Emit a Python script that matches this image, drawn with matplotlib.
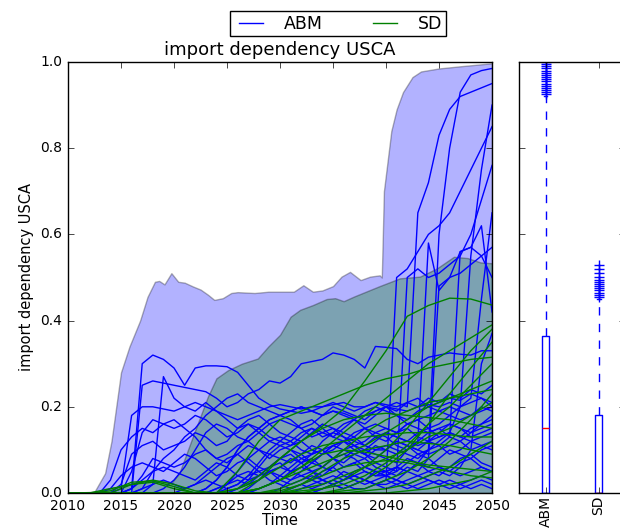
import numpy as np
import matplotlib
matplotlib.use("Agg")
import matplotlib.pyplot as plt

# time axes
years = np.arange(2010, 2051)          # ABM runs, yearly
years_sd = np.arange(2010, 2051, 2)    # SD runs, every two years

# envelope of all ABM runs (upper bound, lower bound is zero)
abm_env_years = [2010, 2012.5, 2013.5, 2014.1, 2015, 2015.8, 2016.8, 2017.5, 2018.2, 2018.6,
                 2019.1, 2019.75, 2020.4, 2021, 2021.8, 2022.5, 2023.2, 2023.8, 2024.6, 2025.4,
                 2026, 2027.6, 2028.9, 2030, 2031.3, 2032.2, 2033.1, 2034, 2035, 2035.8,
                 2036.6, 2037.6, 2038.5, 2039.4, 2039.6, 2039.8, 2040.5, 2041, 2041.6, 2042.5,
                 2043.3, 2045, 2047, 2050]
abm_env_upper = [0, 0.003, 0.046, 0.12, 0.28, 0.34, 0.40, 0.455, 0.49, 0.492,
                 0.484, 0.51, 0.49, 0.488, 0.479, 0.472, 0.46, 0.448, 0.452, 0.464,
                 0.466, 0.464, 0.467, 0.467, 0.467, 0.482, 0.467, 0.47, 0.48, 0.502,
                 0.513, 0.494, 0.502, 0.505, 0.50, 0.70, 0.84, 0.89, 0.93, 0.965,
                 0.978, 0.985, 0.99, 0.997]

# envelope of all SD runs
sd_env_years = [2010, 2012.5, 2013.5, 2015, 2016.5, 2017.5, 2019, 2019.8, 2020.5, 2021.9,
                2023.2, 2024, 2025.1, 2026.4, 2027.9, 2028.9, 2030, 2031, 2031.9, 2033.1,
                2034.4, 2035.2, 2036, 2037, 2038.2, 2039.4, 2041.3, 2043.2, 2044.8, 2046.4,
                2047.7, 2048.9, 2050]
sd_env_upper = [0, 0, 0.01, 0.015, 0.025, 0.03, 0.028, 0.025, 0.046, 0.139,
                0.224, 0.266, 0.285, 0.30, 0.312, 0.34, 0.367, 0.409, 0.425, 0.436,
                0.45, 0.452, 0.445, 0.456, 0.468, 0.48, 0.498, 0.502, 0.521, 0.548,
                0.545, 0.535, 0.533]

# individual ABM runs (2010..2050)
abm_runs = [
    [0, 0, 0, 0, 0, 0, 0.01, 0.30, 0.32, 0.31,
     0.29, 0.25, 0.29, 0.295, 0.295, 0.293, 0.28, 0.25, 0.22, 0.205,
     0.195, 0.19, 0.185, 0.19, 0.18, 0.19, 0.185, 0.175, 0.18, 0.19,
     0.2, 0.195, 0.19, 0.2, 0.205, 0.2, 0.21, 0.2, 0.21, 0.22, 0.2],
    [0, 0, 0, 0, 0, 0, 0, 0.25, 0.26, 0.255,
     0.25, 0.245, 0.24, 0.235, 0.22, 0.2, 0.21, 0.23, 0.24, 0.26,
     0.255, 0.27, 0.3, 0.305, 0.31, 0.325, 0.32, 0.31, 0.29, 0.34,
     0.338, 0.335, 0.31, 0.3, 0.315, 0.32, 0.325, 0.322, 0.32, 0.33, 0.33],
    [0, 0, 0, 0, 0, 0, 0, 0, 0.02, 0.27,
     0.22, 0.2, 0.19, 0.21, 0.19, 0.17, 0.15, 0.16, 0.14, 0.12,
     0.11, 0.12, 0.1, 0.09, 0.1, 0.11, 0.1, 0.09, 0.08, 0.1,
     0.1, 0.12, 0.11, 0.1, 0.09, 0.1, 0.11, 0.12, 0.1, 0.11, 0.12],
    [0, 0, 0, 0, 0, 0.01, 0.18, 0.2, 0.2, 0.195,
     0.19, 0.2, 0.21, 0.2, 0.19, 0.18, 0.17, 0.18, 0.19, 0.2,
     0.205, 0.2, 0.195, 0.2, 0.2, 0.205, 0.21, 0.2, 0.2, 0.21,
     0.205, 0.2, 0.21, 0.2, 0.22, 0.21, 0.22, 0.215, 0.23, 0.22, 0.21],
    [0, 0, 0, 0, 0.03, 0.1, 0.13, 0.15, 0.14, 0.16,
     0.17, 0.15, 0.13, 0.1, 0.08, 0.09, 0.11, 0.12, 0.1, 0.09,
     0.08, 0.07, 0.09, 0.11, 0.1, 0.08, 0.06, 0.07, 0.08, 0.06,
     0.05, 0.06, 0.05, 0.04, 0.05, 0.06, 0.05, 0.04, 0.05, 0.06, 0.05],
    [0, 0, 0, 0, 0, 0.02, 0.09, 0.11, 0.12, 0.1,
     0.11, 0.12, 0.14, 0.13, 0.11, 0.12, 0.15, 0.17, 0.18, 0.16,
     0.17, 0.16, 0.15, 0.13, 0.14, 0.15, 0.14, 0.13, 0.15, 0.16,
     0.15, 0.14, 0.16, 0.15, 0.14, 0.15, 0.16, 0.15, 0.14, 0.16, 0.17],
    [0, 0, 0, 0, 0, 0, 0, 0.01, 0.05, 0.08,
     0.1, 0.13, 0.15, 0.18, 0.2, 0.22, 0.23, 0.21, 0.2, 0.19,
     0.18, 0.19, 0.2, 0.19, 0.18, 0.2, 0.19, 0.18, 0.17, 0.19,
     0.2, 0.18, 0.16, 0.17, 0.18, 0.19, 0.2, 0.19, 0.18, 0.2, 0.19],
    [0, 0, 0, 0, 0.01, 0.04, 0.06, 0.07, 0.06, 0.05,
     0.07, 0.09, 0.08, 0.06, 0.04, 0.05, 0.07, 0.08, 0.06, 0.05,
     0.03, 0.02, 0.03, 0.04, 0.03, 0.02, 0.03, 0.04, 0.03, 0.02,
     0.03, 0.02, 0.03, 0.04, 0.03, 0.02, 0.03, 0.02, 0.03, 0.04, 0.03],
    [0, 0, 0, 0, 0, 0, 0, 0, 0, 0.01,
     0.03, 0.06, 0.1, 0.14, 0.16, 0.15, 0.13, 0.12, 0.14, 0.16,
     0.14, 0.13, 0.12, 0.14, 0.16, 0.15, 0.13, 0.12, 0.11, 0.13,
     0.14, 0.13, 0.12, 0.11, 0.12, 0.13, 0.14, 0.13, 0.12, 0.13, 0.14],
    [0, 0, 0, 0, 0, 0, 0, 0, 0, 0,
     0, 0.01, 0.02, 0.04, 0.06, 0.08, 0.09, 0.07, 0.05, 0.06,
     0.08, 0.1, 0.09, 0.07, 0.06, 0.08, 0.1, 0.11, 0.09, 0.07,
     0.06, 0.05, 0.07, 0.09, 0.08, 0.06, 0.05, 0.07, 0.08, 0.06, 0.05],
    [0, 0, 0, 0, 0, 0, 0, 0, 0, 0,
     0, 0, 0, 0.01, 0.03, 0.06, 0.1, 0.13, 0.15, 0.17,
     0.18, 0.17, 0.15, 0.16, 0.18, 0.19, 0.18, 0.17, 0.19, 0.2,
     0.19, 0.18, 0.17, 0.19, 0.2, 0.19, 0.18, 0.17, 0.18, 0.19, 0.2],
    [0, 0, 0, 0, 0, 0, 0.01, 0.04, 0.08, 0.07,
     0.06, 0.07, 0.09, 0.1, 0.08, 0.07, 0.09, 0.11, 0.1, 0.08,
     0.1, 0.11, 0.12, 0.1, 0.09, 0.11, 0.12, 0.13, 0.11, 0.1,
     0.11, 0.1, 0.09, 0.08, 0.1, 0.11, 0.09, 0.1, 0.12, 0.11, 0.1],
    [0, 0, 0, 0, 0, 0, 0, 0.01, 0.02, 0.03,
     0.02, 0.01, 0.02, 0.03, 0.02, 0.01, 0.02, 0.04, 0.05, 0.03,
     0.02, 0.01, 0.02, 0.01, 0.02, 0.03, 0.02, 0.01, 0.01, 0.02,
     0.01, 0.02, 0.01, 0.02, 0.03, 0.02, 0.01, 0.02, 0.01, 0.02, 0.01],
    [0, 0, 0, 0, 0, 0, 0, 0, 0, 0,
     0, 0, 0, 0, 0, 0.01, 0.02, 0.04, 0.07, 0.1,
     0.12, 0.11, 0.13, 0.15, 0.14, 0.13, 0.15, 0.17, 0.16, 0.18,
     0.2, 0.19, 0.21, 0.22, 0.2, 0.21, 0.23, 0.22, 0.24, 0.23, 0.25],
    [0, 0, 0, 0, 0, 0, 0, 0, 0, 0,
     0, 0, 0, 0, 0.01, 0.02, 0.04, 0.05, 0.04, 0.06,
     0.07, 0.05, 0.04, 0.03, 0.05, 0.06, 0.04, 0.03, 0.02, 0.03,
     0.04, 0.03, 0.02, 0.01, 0.02, 0.03, 0.02, 0.01, 0.02, 0.03, 0.02],
    [0, 0, 0, 0, 0, 0, 0, 0, 0, 0,
     0, 0, 0, 0, 0, 0, 0.01, 0.03, 0.06, 0.09,
     0.11, 0.1, 0.08, 0.09, 0.12, 0.14, 0.13, 0.11, 0.12, 0.14,
     0.13, 0.11, 0.1, 0.12, 0.14, 0.15, 0.13, 0.12, 0.14, 0.15, 0.16],
    [0, 0, 0, 0, 0, 0, 0.01, 0.03, 0.05, 0.06,
     0.05, 0.04, 0.03, 0.05, 0.07, 0.06, 0.04, 0.03, 0.04, 0.06,
     0.08, 0.09, 0.07, 0.05, 0.06, 0.08, 0.09, 0.08, 0.06, 0.05,
     0.04, 0.06, 0.08, 0.07, 0.05, 0.04, 0.06, 0.08, 0.09, 0.07, 0.06],
    [0, 0, 0, 0, 0, 0, 0, 0, 0, 0,
     0, 0, 0, 0, 0, 0, 0, 0, 0.01, 0.02,
     0.03, 0.05, 0.06, 0.05, 0.04, 0.06, 0.08, 0.1, 0.09, 0.08,
     0.1, 0.12, 0.11, 0.09, 0.1, 0.12, 0.14, 0.13, 0.15, 0.16, 0.18],
    [0, 0, 0, 0, 0, 0, 0.05, 0.14, 0.17, 0.16,
     0.15, 0.16, 0.18, 0.17, 0.15, 0.13, 0.14, 0.16, 0.15, 0.13,
     0.12, 0.14, 0.16, 0.17, 0.15, 0.13, 0.12, 0.14, 0.15, 0.13,
     0.12, 0.14, 0.15, 0.13, 0.12, 0.14, 0.16, 0.15, 0.13, 0.14, 0.15],
    [0, 0, 0, 0, 0, 0, 0, 0, 0, 0,
     0, 0, 0, 0, 0, 0, 0, 0, 0, 0,
     0, 0, 0, 0, 0.01, 0.02, 0.01, 0.02, 0.03, 0.05,
     0.04, 0.03, 0.05, 0.07, 0.06, 0.08, 0.1, 0.09, 0.08, 0.1, 0.11],
    # runs that tip over late in the horizon
    [0, 0, 0, 0, 0, 0, 0, 0, 0, 0,
     0, 0, 0, 0.01, 0.03, 0.06, 0.1, 0.13, 0.15, 0.17,
     0.18, 0.19, 0.2, 0.19, 0.2, 0.21, 0.2, 0.19, 0.2, 0.21,
     0.2, 0.21, 0.2, 0.65, 0.72, 0.83, 0.89, 0.92, 0.93, 0.94, 0.95],
    [0, 0, 0, 0, 0, 0, 0, 0, 0, 0,
     0, 0, 0, 0, 0, 0, 0.01, 0.02, 0.03, 0.05,
     0.06, 0.05, 0.07, 0.08, 0.06, 0.05, 0.06, 0.07, 0.05, 0.04,
     0.05, 0.06, 0.05, 0.07, 0.1, 0.6, 0.8, 0.93, 0.97, 0.98, 0.985],
    [0, 0, 0, 0, 0, 0, 0, 0, 0, 0,
     0, 0, 0, 0, 0, 0, 0, 0, 0.01, 0.02,
     0.04, 0.06, 0.08, 0.07, 0.09, 0.1, 0.12, 0.11, 0.1, 0.12,
     0.14, 0.13, 0.12, 0.14, 0.15, 0.13, 0.14, 0.2, 0.55, 0.75, 0.9],
    [0, 0, 0, 0, 0, 0, 0, 0, 0, 0,
     0, 0, 0, 0, 0, 0, 0, 0, 0, 0,
     0, 0.01, 0.02, 0.03, 0.02, 0.03, 0.05, 0.04, 0.03, 0.02,
     0.03, 0.5, 0.52, 0.56, 0.6, 0.62, 0.65, 0.7, 0.75, 0.8, 0.85],
    [0, 0, 0, 0, 0, 0, 0, 0, 0, 0,
     0, 0, 0, 0, 0.01, 0.02, 0.03, 0.02, 0.04, 0.05,
     0.04, 0.03, 0.04, 0.05, 0.03, 0.02, 0.03, 0.04, 0.05, 0.04,
     0.04, 0.05, 0.5, 0.52, 0.5, 0.51, 0.53, 0.55, 0.6, 0.68, 0.76],
    [0, 0, 0, 0, 0, 0, 0, 0, 0, 0,
     0, 0, 0, 0, 0, 0, 0, 0.01, 0.03, 0.05,
     0.06, 0.08, 0.07, 0.09, 0.1, 0.08, 0.07, 0.09, 0.1, 0.09,
     0.08, 0.07, 0.1, 0.12, 0.58, 0.47, 0.5, 0.56, 0.57, 0.62, 0.42],
    [0, 0, 0, 0, 0, 0, 0, 0, 0, 0,
     0, 0, 0, 0, 0, 0, 0, 0, 0, 0,
     0.01, 0.03, 0.05, 0.07, 0.09, 0.11, 0.12, 0.1, 0.09, 0.11,
     0.1, 0.09, 0.11, 0.1, 0.12, 0.11, 0.13, 0.56, 0.57, 0.55, 0.5],
    [0, 0, 0, 0, 0, 0, 0, 0, 0, 0,
     0, 0, 0, 0, 0, 0.02, 0.05, 0.08, 0.1, 0.12,
     0.13, 0.12, 0.14, 0.15, 0.13, 0.14, 0.16, 0.17, 0.15, 0.14,
     0.15, 0.14, 0.16, 0.17, 0.15, 0.16, 0.18, 0.2, 0.22, 0.45, 0.65],
    [0, 0, 0, 0, 0, 0, 0, 0, 0, 0,
     0, 0, 0, 0, 0, 0, 0, 0, 0, 0,
     0, 0, 0.01, 0.02, 0.03, 0.04, 0.03, 0.05, 0.06, 0.05,
     0.05, 0.04, 0.06, 0.05, 0.08, 0.48, 0.5, 0.51, 0.53, 0.55, 0.57],
    [0, 0, 0, 0, 0, 0, 0, 0, 0, 0,
     0, 0, 0, 0, 0, 0, 0, 0, 0, 0,
     0, 0, 0, 0, 0.01, 0.02, 0.01, 0.02, 0.03, 0.02,
     0.02, 0.03, 0.02, 0.03, 0.04, 0.05, 0.04, 0.06, 0.1, 0.3, 0.37],
]

# individual SD runs (2010..2050, every two years)
sd_runs = [
    [0, 0, 0, 0, 0, 0, 0, 0, 0.01, 0.04, 0.08, 0.12, 0.155, 0.195, 0.26, 0.33, 0.41, 0.435, 0.452, 0.45, 0.436],
    [0, 0, 0, 0, 0, 0, 0, 0, 0, 0.01, 0.03, 0.06, 0.1, 0.14, 0.18, 0.22, 0.26, 0.3, 0.33, 0.36, 0.39],
    [0, 0, 0, 0, 0, 0, 0, 0, 0.05, 0.12, 0.17, 0.19, 0.21, 0.23, 0.25, 0.265, 0.275, 0.29, 0.3, 0.31, 0.315],
    [0, 0, 0, 0.02, 0.03, 0.02, 0.005, 0, 0, 0.01, 0.03, 0.05, 0.07, 0.09, 0.11, 0.14, 0.17, 0.2, 0.22, 0.24, 0.26],
    [0, 0, 0, 0, 0, 0, 0, 0, 0, 0.03, 0.08, 0.12, 0.15, 0.17, 0.18, 0.185, 0.18, 0.175, 0.17, 0.16, 0.15],
    [0, 0, 0, 0, 0, 0, 0, 0, 0, 0, 0, 0, 0, 0.01, 0.03, 0.06, 0.1, 0.16, 0.23, 0.29, 0.35],
    [0, 0, 0.005, 0.025, 0.028, 0.015, 0, 0, 0, 0, 0, 0.005, 0.01, 0.02, 0.04, 0.07, 0.11, 0.16, 0.2, 0.25, 0.3],
    [0, 0, 0, 0, 0, 0, 0, 0, 0.01, 0.03, 0.06, 0.09, 0.11, 0.12, 0.13, 0.135, 0.14, 0.14, 0.135, 0.13, 0.13],
    [0, 0, 0, 0, 0, 0, 0, 0, 0, 0, 0, 0.01, 0.02, 0.04, 0.06, 0.08, 0.1, 0.13, 0.15, 0.18, 0.21],
    [0, 0, 0, 0, 0, 0, 0, 0, 0, 0.01, 0.03, 0.06, 0.09, 0.1, 0.095, 0.085, 0.075, 0.065, 0.06, 0.055, 0.05],
    [0, 0, 0, 0, 0, 0, 0, 0, 0, 0, 0, 0, 0, 0, 0.005, 0.01, 0.02, 0.04, 0.06, 0.09, 0.12],
    [0, 0, 0, 0, 0, 0, 0, 0, 0, 0, 0, 0, 0.01, 0.03, 0.06, 0.1, 0.15, 0.21, 0.27, 0.33, 0.38],
    [0, 0, 0.01, 0.02, 0.025, 0.01, 0, 0, 0, 0, 0, 0, 0, 0, 0, 0, 0.005, 0.01, 0.02, 0.03, 0.05],
    [0, 0, 0, 0, 0, 0, 0, 0, 0, 0, 0.01, 0.03, 0.06, 0.1, 0.14, 0.17, 0.19, 0.21, 0.22, 0.23, 0.24],
    [0, 0, 0, 0, 0, 0, 0, 0, 0, 0, 0, 0.02, 0.05, 0.08, 0.1, 0.11, 0.12, 0.115, 0.11, 0.1, 0.09],
    [0, 0, 0, 0, 0, 0, 0, 0, 0, 0, 0, 0, 0, 0.005, 0.01, 0.03, 0.05, 0.08, 0.12, 0.17, 0.23],
    [0, 0, 0, 0, 0, 0, 0, 0, 0, 0, 0.005, 0.02, 0.04, 0.06, 0.07, 0.075, 0.07, 0.06, 0.05, 0.04, 0.035],
]

# end-state distribution summary per model
box_labels = ["ABM", "SD"]
box_q1 = [0.0, 0.0]
box_median = [0.15, 0.0]
box_q3 = [0.365, 0.18]
box_whislo = [0.0, 0.0]
box_whishi = [0.92, 0.45]
abm_fliers = [0.925, 0.93, 0.935, 0.94, 0.945, 0.95, 0.955, 0.96, 0.965, 0.97,
              0.975, 0.98, 0.985, 0.99, 0.995, 1.0]
sd_fliers = [0.455, 0.46, 0.465, 0.47, 0.475, 0.48, 0.485, 0.49, 0.495, 0.50,
             0.51, 0.52, 0.53]

plt.style.use("classic")
plt.rcParams["figure.facecolor"] = "white"
plt.rcParams["savefig.facecolor"] = "white"
plt.rcParams["font.family"] = "DejaVu Sans"

fig = plt.figure(figsize=(6.2, 5.32), dpi=100)
ax = fig.add_axes([0.1097, 0.0733, 0.6839, 0.8102])
ax_box = fig.add_axes([0.8371, 0.0733, 0.171, 0.8102])

# envelopes
ax.fill_between(abm_env_years, 0, abm_env_upper, facecolor="b", alpha=0.3,
                edgecolor="k", linewidth=1)
ax.fill_between(sd_env_years, 0, sd_env_upper, facecolor="g", alpha=0.3,
                edgecolor="k", linewidth=1)

# runs
for i, run in enumerate(abm_runs):
    ax.plot(years, run, color="b", linewidth=1, label="ABM" if i == 0 else None)
for i, run in enumerate(sd_runs):
    ax.plot(years_sd, run, color="g", linewidth=1, label="SD" if i == 0 else None)

ax.set_xlim(2010, 2050)
ax.set_ylim(0, 1)
ax.set_xticks(range(2010, 2051, 5))
ax.ticklabel_format(axis="x", useOffset=False)
ax.set_yticks(np.arange(0, 1.01, 0.2))
ax.tick_params(labelsize=10)
ax.set_title("import dependency USCA", fontsize=13)
ax.set_xlabel("Time", fontsize=10.5, labelpad=0)
ax.set_ylabel("import dependency USCA", fontsize=10.5)

# boxplots of the runs
stats = []
for k, lab in enumerate(box_labels):
    stats.append({
        "label": lab,
        "q1": box_q1[k],
        "med": box_median[k],
        "q3": box_q3[k],
        "whislo": box_whislo[k],
        "whishi": box_whishi[k],
        "fliers": abm_fliers if k == 0 else sd_fliers,
    })
ax_box.bxp(stats, positions=[1, 2], widths=0.15,
           boxprops=dict(color="b"),
           whiskerprops=dict(color="b", linestyle="--"),
           capprops=dict(color="b"),
           medianprops=dict(color="r"),
           flierprops=dict(marker="+", markeredgecolor="b", markersize=7))
ax_box.set_xlim(0.5, 2.5)
ax_box.set_ylim(0, 1)
ax_box.set_yticks(np.arange(0, 1.01, 0.2))
ax_box.set_yticklabels([])
ax_box.set_xticklabels(box_labels, rotation=90, fontsize=10)
ax_box.tick_params(axis="x", pad=2)

handles, labels = ax.get_legend_handles_labels()
fig.legend(handles, labels, loc="upper center", bbox_to_anchor=(0.545, 0.985),
           ncol=2, fontsize=12.5, fancybox=False, borderaxespad=0.2,
           borderpad=0.2, handletextpad=0.9, columnspacing=2.6)

fig.savefig("out.png", dpi=100)
